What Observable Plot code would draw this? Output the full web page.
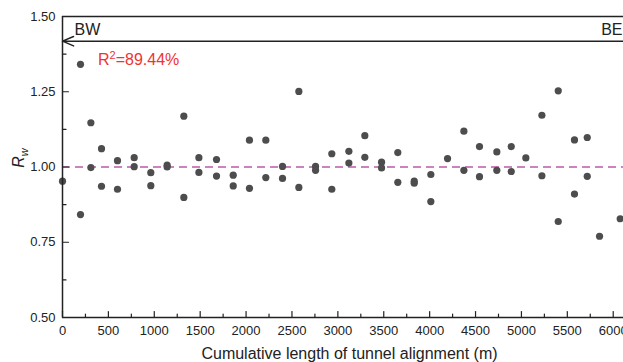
<!DOCTYPE html>
<html><head><meta charset="utf-8">
<script src="https://cdn.jsdelivr.net/npm/d3@7"></script>
<script src="https://cdn.jsdelivr.net/npm/@observablehq/plot@0.6"></script>
<style>html,body{margin:0;padding:0;background:#fff;overflow:hidden} svg{display:block}</style>
</head><body><div id="chart"></div>
<script>
// ---- data ----
const chainage = [0, 196,196, 309,309, 425,425, 599,599, 781,781, 962,962, 1140,1140, 1322,1322,
  1486,1486, 1678,1678, 1860,1860, 2037,2037, 2215,2215, 2397,2397, 2575,2575, 2757,2757, 2934,2934,
  3120,3120, 3294,3294, 3476,3476, 3653,3653, 3832,3832, 4013,4013, 4195, 4373,4373, 4543,4543,
  4732,4732, 4889,4889, 5048, 5223,5223, 5401,5401, 5578,5578, 5717,5717, 5851, 6076];
const rw = [0.953, 1.341,0.842, 1.147,0.998, 1.061,0.936, 1.021,0.926, 1.031,1.001, 0.981,0.938, 1.006,1.000, 1.169,0.899,
  1.031,0.982, 1.025,0.970, 0.973,0.937, 1.089,0.929, 1.089,0.965, 1.002,0.962, 1.251,0.932, 1.002,0.989, 1.044,0.926,
  1.052,1.013, 1.104,1.032, 1.016,0.997, 1.048,0.949, 0.953,0.946, 0.975,0.885, 1.028, 1.119,0.989, 1.068,0.968,
  1.050,0.989, 1.068,0.985, 1.030, 1.172,0.971, 1.253,0.819, 1.090,0.910, 1.098,0.969, 0.770, 0.828];
const xTicks = [0,500,1000,1500,2000,2500,3000,3500,4000,4500,5000,5500,6000];
const xMinor = [250,750,1250,1750,2250,2750,3250,3750,4250,4750,5250,5750];
const yTicks = [0.5,0.75,1.0,1.25,1.5];
const yMinor = [0.625,0.875,1.125,1.375];
const xDomain = [0, 6112];
const yDomain = [0.5, 1.5];
const reference = 1.0;
const arrowLevel = 1.418;
const leftLabel = "BW", rightLabel = "BE";
const r2Parts = ["R", "2", "=89.44%"];
const xLabel = "Cumulative length of tunnel alignment (m)";

const points = chainage.map((c, i) => ({c, r: rw[i]}));
const tickShape = {draw(ctx, l) { ctx.moveTo(0, 0); ctx.lineTo(0, -l); }};
const ink = "#222";
const font = "'Liberation Sans', Arial, sans-serif";

const plot = Plot.plot({
  width: 623, height: 362,
  marginLeft: 62, marginRight: 0, marginTop: 16, marginBottom: 45,
  style: {fontFamily: font, fontSize: "13px", color: ink, background: "#fff", overflow: "visible"},
  x: {domain: xDomain},
  y: {domain: yDomain},
  marks: [
    Plot.ruleY([reference], {stroke: "#bb5aa8", strokeWidth: 1.5, strokeDasharray: "8,5"}),
    Plot.dot(points, {x: "c", y: "r", r: 3.6, fill: "#4d4d4d"}),
    Plot.ruleX([xDomain[0]], {stroke: ink, strokeWidth: 1.5}),
    Plot.ruleY([yDomain[0]], {stroke: ink, strokeWidth: 1.5}),
    Plot.ruleY([yDomain[1]], {stroke: ink, strokeWidth: 1.5}),
    Plot.arrow([{a: xDomain[1], b: xDomain[0], y: arrowLevel}], {x1: "a", x2: "b", y1: "y", y2: "y", stroke: ink, strokeWidth: 1.5, headAngle: 46, headLength: 12}),
    Plot.vector(xTicks, {x: d => d, frameAnchor: "bottom", length: 6, rotate: 0, anchor: "start", shape: tickShape, stroke: ink, strokeWidth: 1.2}),
    Plot.vector(xMinor, {x: d => d, frameAnchor: "bottom", length: 3.5, rotate: 0, anchor: "start", shape: tickShape, stroke: ink, strokeWidth: 1.2}),
    Plot.vector(yTicks, {y: d => d, frameAnchor: "left", length: 6, rotate: 90, anchor: "start", shape: tickShape, stroke: ink, strokeWidth: 1.2}),
    Plot.vector(yMinor, {y: d => d, frameAnchor: "left", length: 3.5, rotate: 90, anchor: "start", shape: tickShape, stroke: ink, strokeWidth: 1.2}),
    Plot.axisX(xTicks, {tickSize: 0, tickPadding: 8, label: null, fontSize: 13, tickFormat: d => String(d)}),
    Plot.axisY(yTicks, {tickSize: 0, tickPadding: 7, label: null, fontSize: 13, tickFormat: d3.format(".2f")}),
    Plot.text([leftLabel], {frameAnchor: "top-left", dx: 12, dy: 7, lineAnchor: "top", textAnchor: "start", fontSize: 16, fill: ink}),
    Plot.text([rightLabel], {frameAnchor: "top-right", dx: -1, dy: 7, lineAnchor: "top", textAnchor: "end", fontSize: 16, fill: ink}),
    Plot.text([xLabel], {frameAnchor: "bottom", dx: 6.5, dy: 36, lineAnchor: "middle", fontSize: 16, fill: ink})
  ]
});
document.getElementById("chart").appendChild(plot);

const svg = d3.select(plot);
// R² annotation with real superscript
const r2 = svg.append("text")
  .attr("x", 98).attr("y", 65).attr("text-anchor", "start")
  .attr("font-family", font).attr("font-size", 16).attr("fill", "#ee3333");
r2.append("tspan").text(r2Parts[0]);
r2.append("tspan").attr("font-size", 11).attr("dy", -6).text(r2Parts[1]);
r2.append("tspan").attr("dy", 6).text(r2Parts[2]);

// y-axis title with italic subscript
const yt = svg.append("text")
  .attr("transform", "translate(24,158) rotate(-90)")
  .attr("text-anchor", "middle")
  .attr("font-family", font)
  .attr("font-size", 16).attr("font-style", "italic").attr("fill", ink);
yt.append("tspan").text("R");
yt.append("tspan").attr("font-size", 11).attr("dy", 4).text("w");
</script>
</body></html>
